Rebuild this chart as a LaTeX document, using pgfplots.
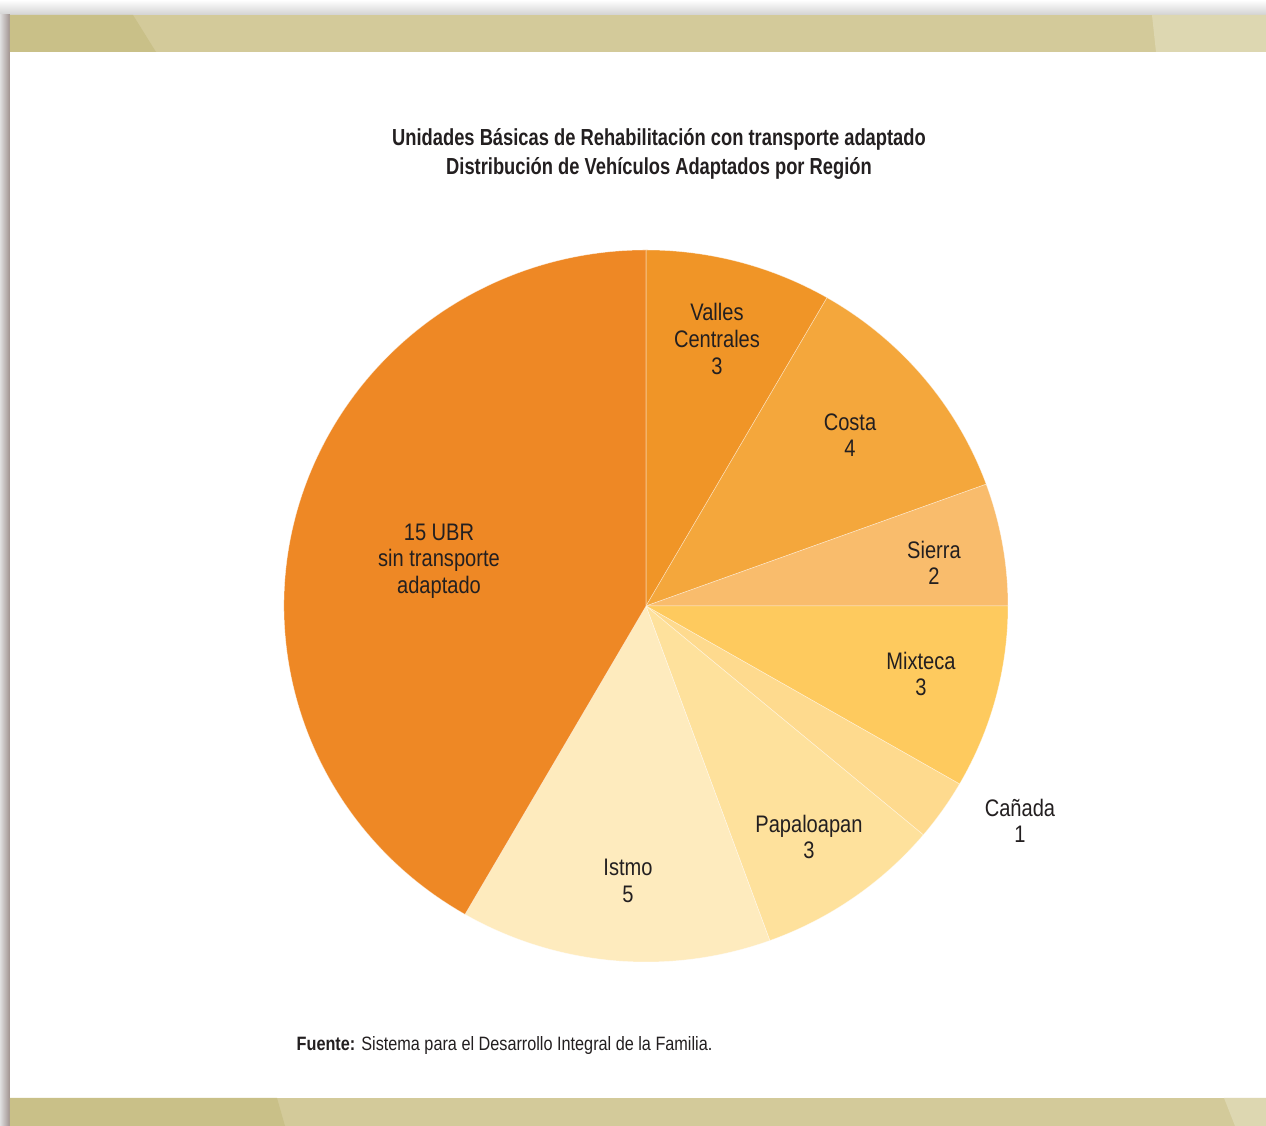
\documentclass[border=0pt]{standalone}
\usepackage{pgfplots}
\pgfplotsset{compat=1.18}
\usepackage{pgfplotstable}
\usepackage{fontspec}
\setmainfont{Liberation Sans}[FakeStretch=0.84]
\newfontfamily\titlefont{Liberation Sans}[FakeStretch=0.79]

\definecolor{cUBR}{HTML}{EE8825}
\definecolor{cValles}{HTML}{F09527}
\definecolor{cCosta}{HTML}{F4A73C}
\definecolor{cSierra}{HTML}{F9BC6C}
\definecolor{cMixteca}{HTML}{FECA5E}
\definecolor{cCanada}{HTML}{FEDA8E}
\definecolor{cPapa}{HTML}{FEE19C}
\definecolor{cIstmo}{HTML}{FEEBBE}
\definecolor{band}{HTML}{D3CA9A}
\definecolor{banddark}{HTML}{C9C088}
\definecolor{bandlight}{HTML}{DDD7B1}
\definecolor{shadow}{HTML}{9E908D}
\definecolor{txt}{HTML}{231F20}

% vehiculos adaptados por region, clockwise from the top
\pgfplotstableread[col sep=comma]{
region,value,col
Valles,3,cValles
Costa,4,cCosta
Sierra,2,cSierra
Mixteca,3,cMixteca
Canada,1,cCanada
Papaloapan,3,cPapa
Istmo,5,cIstmo
UBR,15,cUBR
}\piedata

\begin{document}
\begin{tikzpicture}
\begin{axis}[
    x=1cm, y=1cm, scale only axis,
    xmin=0, xmax=12.66, ymin=0, ymax=11.26,
    hide axis, clip=false]

% page background and decoration
\fill[white] (axis cs:0,0) rectangle (axis cs:12.66,11.26);
\shade[top color=white, bottom color=gray!35] (axis cs:0,11.11) rectangle (axis cs:12.66,11.26);
\shade[left color=gray!25, right color=shadow] (axis cs:0,0) rectangle (axis cs:0.10,11.11);
\fill[band] (axis cs:0.10,10.74) rectangle (axis cs:12.66,11.11);
\fill[banddark] (axis cs:0.10,11.11) -- (axis cs:1.33,11.11) -- (axis cs:1.56,10.74) -- (axis cs:0.10,10.74) -- cycle;
\fill[bandlight] (axis cs:11.52,11.11) -- (axis cs:12.66,11.11) -- (axis cs:12.66,10.74) -- (axis cs:11.56,10.74) -- cycle;
\fill[band] (axis cs:0.10,0) rectangle (axis cs:12.66,0.28);
\fill[banddark] (axis cs:0.10,0.28) -- (axis cs:2.77,0.28) -- (axis cs:2.85,0) -- (axis cs:0.10,0) -- cycle;
\fill[bandlight] (axis cs:12.24,0.28) -- (axis cs:12.66,0.28) -- (axis cs:12.66,0) -- (axis cs:12.35,0) -- cycle;

% pie
\def\cx{6.46}
\def\cy{5.20}
\def\rx{3.62}
\def\ry{3.56}
\pgfplotstablegetrowsof{\piedata}
\pgfmathtruncatemacro\nrows{\pgfplotsretval-1}
\def\total{0}
\pgfplotsforeachungrouped \i in {0,...,\nrows}{%
  \pgfplotstablegetelem{\i}{value}\of\piedata
  \pgfmathsetmacro\total{\total+\pgfplotsretval}%
}
\def\startangle{90}
\pgfplotsforeachungrouped \i in {0,...,\nrows}{%
  \pgfplotstablegetelem{\i}{value}\of\piedata
  \let\val\pgfplotsretval
  \pgfplotstablegetelem{\i}{col}\of\piedata
  \let\colname\pgfplotsretval
  \pgfmathsetmacro\endangle{\startangle-360*\val/\total}%
  \pgfmathsetmacro\sx{\cx+\rx*cos(\startangle)}%
  \pgfmathsetmacro\sy{\cy+\ry*sin(\startangle)}%
  \edef\temp{\noexpand\fill[\colname, draw=white, draw opacity=0.5, line width=0.15pt]
    (axis cs:\cx,\cy) -- (axis cs:\sx,\sy)
    arc[start angle=\startangle, end angle=\endangle, x radius=\rx, y radius=\ry] -- cycle;}%
  \temp
  \let\startangle\endangle
}

% labels
\tikzset{lab/.style={text=txt, align=center, inner sep=0pt,
    font=\fontsize{6.8pt}{7.55pt}\selectfont}}
\node[lab] at (axis cs:7.17,7.87) {Valles\\Centrales\\3};
\node[lab] at (axis cs:8.50,6.91) {Costa\\4};
\node[lab] at (axis cs:9.34,5.63) {Sierra\\2};
\node[lab] at (axis cs:9.21,4.52) {Mixteca\\3};
\node[lab] at (axis cs:10.20,3.05) {Cañada\\1};
\node[lab] at (axis cs:8.09,2.89) {Papaloapan\\3};
\node[lab] at (axis cs:6.28,2.45) {Istmo\\5};
\node[lab] at (axis cs:4.39,5.65) {15 UBR\\sin transporte\\adaptado};

% title and source
\node[text=txt, align=center, inner sep=0pt,
    font=\titlefont\fontsize{6.6pt}{8pt}\selectfont\bfseries]
    at (axis cs:6.59,9.72) {Unidades Básicas de Rehabilitación con transporte adaptado\\Distribución de Vehículos Adaptados por Región};
\node[text=txt, anchor=base west, inner sep=0pt,
    font=\fontsize{5.5pt}{6.5pt}\selectfont]
    at (axis cs:2.96,0.75) {\textbf{Fuente:} Sistema para el Desarrollo Integral de la Familia.};
\end{axis}
\end{tikzpicture}
\end{document}
